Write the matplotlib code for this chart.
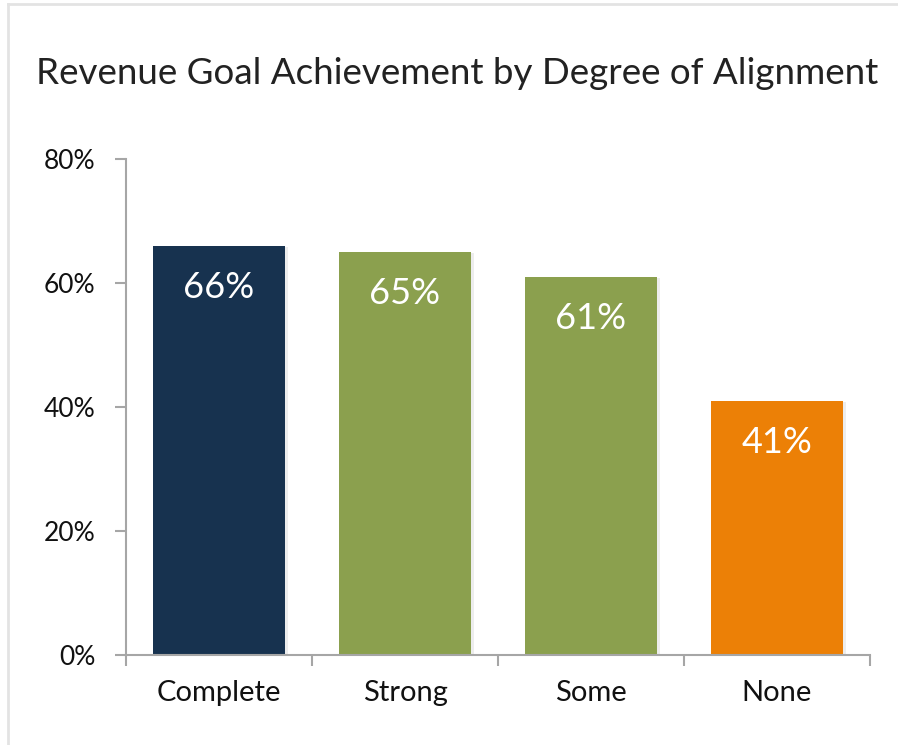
import matplotlib
matplotlib.use("Agg")
import matplotlib.pyplot as plt
import matplotlib.patheffects as pe
from matplotlib.lines import Line2D

# data
categories = ["Complete", "Strong", "Some", "None"]
values = [66, 65, 61, 41]
bar_colors = ["#17324F", "#8BA04E", "#8BA04E", "#EC8006"]
y_ticks = [0, 20, 40, 60, 80]

plt.rcParams["font.family"] = ["Lato", "DejaVu Sans"]

fig = plt.figure(figsize=(8.98, 7.45), dpi=100)
ax = fig.add_axes([126 / 898, 90 / 745, 744 / 898, 496 / 745])

x = range(len(categories))
bars = ax.bar(
    x,
    values,
    width=0.715,
    color=bar_colors,
    zorder=2,
    path_effects=[pe.SimplePatchShadow(offset=(2, -1), alpha=0.15, shadow_rgbFace="#888888"), pe.Normal()],
)

# value labels inside bars
for xi, v in zip(x, values):
    ax.text(xi, v - 6.7, f"{v}%", ha="center", va="center",
            color="white", fontsize=26, zorder=3)

ax.set_xlim(-0.5, 3.5)
ax.set_ylim(0, 80)
ax.set_yticks(y_ticks)
ax.set_yticklabels([f"{t}%" for t in y_ticks])
ax.set_xticks([-0.5, 0.5, 1.5, 2.5, 3.5], minor=False)
ax.set_xticklabels([])
ax.set_xticks(list(x), minor=True)
ax.set_xticklabels(categories, minor=True)

ax.tick_params(axis="y", length=8, width=1.5, color="#A6A6A6", pad=14, labelsize=19, labelcolor="#111111")
ax.tick_params(axis="x", which="major", length=8, width=1.5, color="#A6A6A6")
ax.tick_params(axis="x", which="minor", length=0, pad=18, labelsize=21, labelcolor="#111111")

for side in ["top", "right"]:
    ax.spines[side].set_visible(False)
for side in ["left", "bottom"]:
    ax.spines[side].set_color("#A6A6A6")
    ax.spines[side].set_linewidth(1.5)

fig.text(36 / 898, 1 - 73 / 745, "Revenue Goal Achievement by Degree of Alignment",
         ha="left", va="center", fontsize=26.5, color="#222222")

# light frame around the card
fig.add_artist(Line2D([8 / 898, 1], [1 - 4 / 745, 1 - 4 / 745], color="#E3E3E3", linewidth=2))
fig.add_artist(Line2D([8 / 898, 8 / 898], [0, 1 - 4 / 745], color="#E3E3E3", linewidth=2))

fig.savefig("out.png", dpi=100)
